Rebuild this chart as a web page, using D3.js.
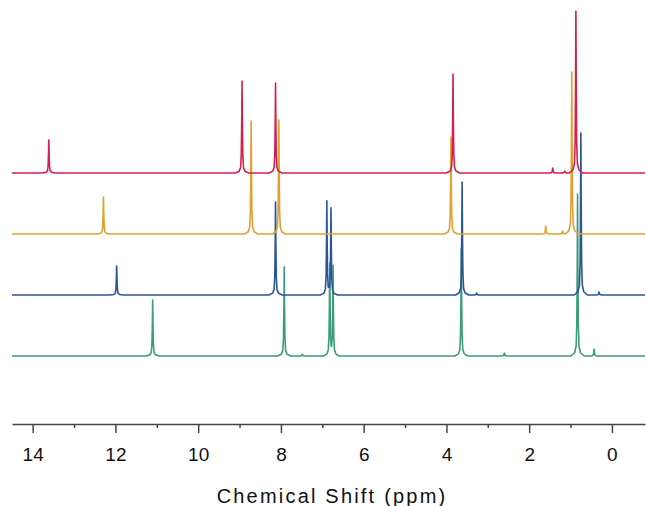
<!DOCTYPE html>
<html>
<head>
<meta charset="utf-8">
<script src="https://cdn.jsdelivr.net/npm/d3@7"></script>
<style>
  body { margin: 0; background: #fff; }
  svg { display: block; }
</style>
</head>
<body>
<div id="viz"></div>
<script>
// peak lists: [ppm, height]
var redPeaks    = [[13.61, 33], [8.94, 92], [8.13, 90], [3.84, 99], [1.43, 5], [1.14, 2], [0.87, 162]];
var orangePeaks = [[12.29, 37], [8.72, 113], [8.05, 114], [3.89, 97], [1.60, 8], [1.19, 3], [0.97, 162]];
var bluePeaks   = [[11.97, 29], [8.13, 93], [6.89, 93], [6.79, 86], [3.62, 113], [3.27, 2], [0.75, 162], [0.31, 3]];
var greenPeaks  = [[11.10, 56], [7.92, 89], [7.48, 2], [6.82, 91], [6.74, 89], [3.64, 108], [2.60, 3], [0.83, 162], [0.43, 7]];

var spectra   = [redPeaks, orangePeaks, bluePeaks, greenPeaks];
var offsets   = [251, 190, 129, 68];
var colors    = ["#d3204f", "#e2a12f", "#2c5598", "#3c9b7a"];
var tickVals  = [14, 12, 10, 8, 6, 4, 2, 0];
var minorVals = [13, 11, 9, 7, 5, 3, 1];

var width = 646, height = 506, axisY = 424;

var x = d3.scaleLinear().domain([14.5, -0.8]).range([12, 645]);
var y = d3.scaleLinear().domain([0, axisY]).range([axisY, 0]);

var svg = d3.select("#viz").append("svg")
    .attr("width", width)
    .attr("height", height);

// lorentz-like outline around each peak (ppm offset, fraction of height)
var shape = [[-0.16, 0], [-0.07, 0.02], [-0.035, 0.06], [-0.018, 0.2], [-0.008, 0.55], [0, 1],
             [0.008, 0.55], [0.018, 0.2], [0.035, 0.06], [0.07, 0.02], [0.16, 0]];

function peakAt(p, v) {
  var dx = v - p[0];
  if (dx <= shape[0][0] || dx >= shape[shape.length - 1][0]) return 0;
  for (var k = 1; k < shape.length; k++) {
    if (dx <= shape[k][0]) {
      var a = shape[k - 1], b = shape[k];
      return p[1] * (a[1] + (b[1] - a[1]) * (dx - a[0]) / (b[0] - a[0]));
    }
  }
  return 0;
}

function buildLine(peaks) {
  var xs = [x.domain()[0], x.domain()[1]];
  peaks.forEach(function(p) {
    shape.forEach(function(s) { xs.push(p[0] + s[0]); });
  });
  xs.sort(function(a, b) { return b - a; });
  return xs.map(function(v) {
    return [v, d3.sum(peaks, function(p) { return peakAt(p, v); })];
  });
}

// draw bottom spectrum first so upper ones sit on top
for (var i = spectra.length - 1; i >= 0; i--) {
  var off = offsets[i];
  svg.append("path")
      .datum(buildLine(spectra[i]))
      .attr("fill", "none")
      .attr("stroke", colors[i])
      .attr("stroke-width", 1.6)
      .attr("stroke-linejoin", "round")
      .attr("d", d3.line()
          .x(function(d) { return x(d[0]); })
          .y(function(d) { return y(d[1] + off); }));
}

var axisG = svg.append("g")
    .attr("transform", "translate(0," + axisY + ")");

axisG.append("g")
    .call(d3.axisBottom(x).tickValues(minorVals).tickSize(4).tickSizeOuter(0).tickFormat(""))
    .call(function(g) { g.select(".domain").remove(); })
    .selectAll("line").attr("stroke", "#444").attr("stroke-width", 1.5);

axisG.append("g")
    .call(d3.axisBottom(x).tickValues(tickVals).tickSize(9).tickSizeOuter(0).tickFormat(d3.format("d")))
    .call(function(g) {
      g.select(".domain").attr("stroke", "#444").attr("stroke-width", 1.5);
      g.selectAll("line").attr("stroke", "#444").attr("stroke-width", 1.5);
      g.selectAll("text")
          .attr("y", 37)
          .attr("dy", null)
          .attr("fill", "#111")
          .style("font-family", "'Liberation Sans', Arial, sans-serif")
          .style("font-size", "19px");
    });

svg.append("text")
    .attr("x", 332)
    .attr("y", 503)
    .attr("text-anchor", "middle")
    .style("font-family", "'Liberation Sans', Arial, sans-serif")
    .style("font-size", "20px")
    .style("letter-spacing", "2.2px")
    .attr("fill", "#111")
    .text("Chemical Shift (ppm)");
</script>
</body>
</html>
